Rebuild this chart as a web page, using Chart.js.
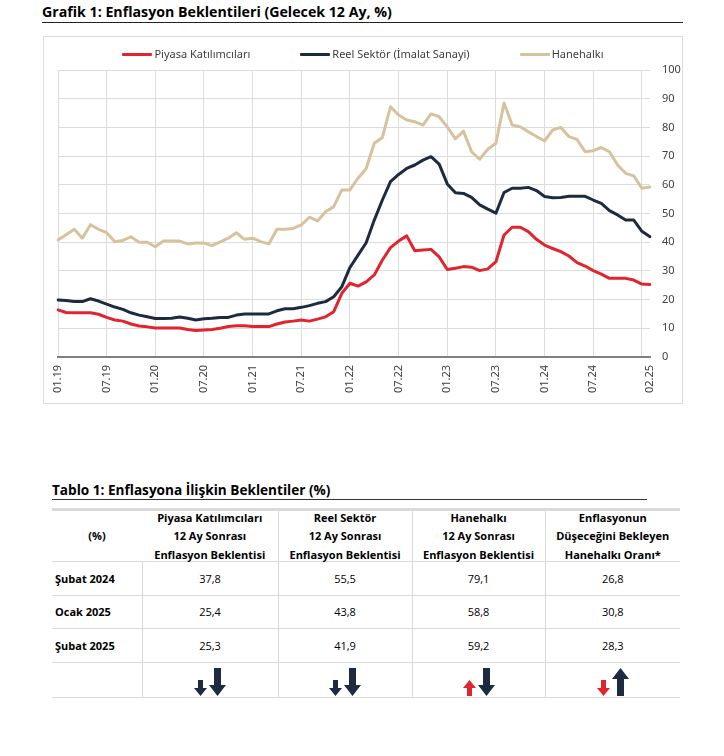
<!DOCTYPE html>
<html>
<head>
<meta charset="utf-8">
<script src="https://cdn.jsdelivr.net/npm/chart.js@4.4.1/dist/chart.umd.min.js"></script>
<style>
  body { margin: 0; background: #fff; width: 724px; height: 756px; position: relative; font-family: "Open Sans", sans-serif; color: #000; }
  #title { position: absolute; left: 42px; top: 3px; width: 641px; font-weight: 700; font-size: 14.2px; line-height: 18px; padding-bottom: 1px; border-bottom: 1px solid #222; }
  #box { position: absolute; left: 43px; top: 36px; width: 640px; height: 368px; border: 1px solid #dcdcdc; box-sizing: border-box; }
  #legend { position: absolute; left: 0; right: 0; top: 9px; display: flex; justify-content: center; gap: 50px; font-family: "Noto Sans", sans-serif; font-size: 11px; color: #404040; line-height: 16px; }
  #legend .item { display: flex; align-items: center; }
  #legend .swatch { width: 30px; height: 3px; margin-right: 2px; border-radius: 1px; }
  #chart { position: absolute; left: 0; top: 0; }
  #ttitle { position: absolute; left: 52px; top: 481px; width: 595px; font-weight: 700; font-size: 13.6px; line-height: 17px; padding-bottom: 1px; border-bottom: 1.5px solid #333; }
  table { position: absolute; left: 52px; top: 508px; width: 628px; border-collapse: collapse; table-layout: fixed; font-size: 11px; }
  th, td { border-bottom: 1.5px solid #dadada; border-left: 1.5px solid #dadada; text-align: center; padding: 0; }
  th { font-weight: 700; height: 50px; border-top: 3px solid #dadada; }
  th div { line-height: 18.3px; margin: -2px 0 -3px; }
  td { height: 32.5px; }
  tr > :first-child { border-left: none; }
  td.lab { text-align: left; font-weight: 700; padding-left: 3px; }
  th.noline + th { border-left: none; }
  .arrows { display: flex; justify-content: center; align-items: flex-end; gap: 2px; height: 34px; padding-bottom: 1px; box-sizing: border-box; }
</style>
</head>
<body>

<div id="title">Grafik 1: Enflasyon Beklentileri (Gelecek 12 Ay, %)</div>

<div id="box">
  <canvas id="chart" width="638" height="366" style="width:638px;height:366px"></canvas>
  <div id="legend"></div>
</div>

<div id="ttitle">Tablo 1: Enflasyona İlişkin Beklentiler (%)</div>
<table id="tbl"></table>

<script>
// ---- chart data ----
const months = ("01.19 02.19 03.19 04.19 05.19 06.19 07.19 08.19 09.19 10.19 11.19 12.19 " +
  "01.20 02.20 03.20 04.20 05.20 06.20 07.20 08.20 09.20 10.20 11.20 12.20 " +
  "01.21 02.21 03.21 04.21 05.21 06.21 07.21 08.21 09.21 10.21 11.21 12.21 " +
  "01.22 02.22 03.22 04.22 05.22 06.22 07.22 08.22 09.22 10.22 11.22 12.22 " +
  "01.23 02.23 03.23 04.23 05.23 06.23 07.23 08.23 09.23 10.23 11.23 12.23 " +
  "01.24 02.24 03.24 04.24 05.24 06.24 07.24 08.24 09.24 10.24 11.24 12.24 " +
  "01.25 02.25").split(" ")

const shownTicks = ["01.19", "07.19", "01.20", "07.20", "01.21", "07.21", "01.22",
  "07.22", "01.23", "07.23", "01.24", "07.24", "02.25"]

const seriesNames = ["Piyasa Katılımcıları", "Reel Sektör (İmalat Sanayi)", "Hanehalkı"]
const seriesColors = ["#e1242d", "#1c2b3f", "#d7c29d"]

const piyasa = [16.4, 15.5, 15.4, 15.4, 15.4, 14.9, 13.8, 12.9, 12.5, 11.5, 10.8, 10.5,
  10.1, 10.1, 10.1, 10.1, 9.6, 9.2, 9.4, 9.6, 10.0, 10.6, 10.9, 10.9,
  10.6, 10.6, 10.6, 11.5, 12.2, 12.5, 12.9, 12.5, 13.2, 14.0, 15.8, 22.2,
  25.7, 24.7, 26.2, 28.6, 33.8, 38.1, 40.4, 42.2, 37.0, 37.3, 37.5, 34.9,
  30.5, 30.9, 31.5, 31.3, 30.1, 30.7, 33.2, 42.5, 45.2, 45.2, 43.7, 41.0,
  39.0, 37.8, 36.7, 35.2, 32.9, 31.7, 30.1, 28.9, 27.4, 27.4, 27.4, 26.8,
  25.4, 25.3]

const reel = [19.9, 19.7, 19.3, 19.3, 20.3, 19.5, 18.4, 17.4, 16.6, 15.4, 14.6, 14.0,
  13.4, 13.4, 13.5, 13.9, 13.5, 12.9, 13.3, 13.5, 13.8, 13.8, 14.6, 15.0,
  15.0, 15.0, 15.0, 16.1, 16.8, 16.8, 17.3, 17.9, 18.7, 19.3, 21.0, 24.5,
  31.2, 35.5, 39.8, 47.7, 54.7, 61.1, 63.6, 65.7, 66.9, 68.6, 69.8, 67.2,
  60.3, 57.2, 57.0, 55.6, 53.0, 51.5, 50.1, 57.3, 58.8, 58.8, 59.1, 58.0,
  55.9, 55.5, 55.6, 56.0, 56.0, 56.0, 54.7, 53.5, 51.0, 49.5, 47.7, 47.7,
  43.8, 41.9]

const hanehalki = [40.8, 42.6, 44.5, 41.4, 46.1, 44.5, 43.3, 40.2, 40.6, 41.9, 40.0, 40.0,
  38.4, 40.4, 40.4, 40.4, 39.4, 39.7, 39.7, 38.8, 40.1, 41.4, 43.3, 41.0,
  41.4, 40.2, 39.4, 44.5, 44.5, 44.8, 46.0, 48.7, 47.4, 50.6, 52.4, 58.2,
  58.2, 62.3, 65.7, 74.5, 76.5, 87.2, 84.3, 82.6, 82.0, 80.8, 84.7, 83.7,
  80.2, 76.0, 78.7, 71.5, 68.9, 72.4, 74.5, 88.5, 80.8, 80.2, 78.5, 76.8,
  75.3, 79.1, 80.0, 76.8, 75.8, 71.5, 71.9, 73.0, 71.5, 66.9, 64.0, 63.1,
  58.8, 59.2]

// ---- table data ----
const tableHeaders = ["(%)",
  "Piyasa Katılımcıları<br>12 Ay Sonrası<br>Enflasyon Beklentisi",
  "Reel Sektör<br>12 Ay Sonrası<br>Enflasyon Beklentisi",
  "Hanehalkı<br>12 Ay Sonrası<br>Enflasyon Beklentisi",
  "Enflasyonun<br>Düşeceğini Bekleyen<br>Hanehalkı Oranı*"]
const tableRows = ["Şubat 2024", "Ocak 2025", "Şubat 2025"]
const tableValues = [
  ["37,8", "55,5", "79,1", "26,8"],
  ["25,4", "43,8", "58,8", "30,8"],
  ["25,3", "41,9", "59,2", "28,3"]
]
// [small arrow, big arrow] per column: direction and colour
const tableArrows = [
  [["down", "navy"], ["down", "navy"]],
  [["down", "navy"], ["down", "navy"]],
  [["up", "red"], ["down", "navy"]],
  [["down", "red"], ["up", "navy"]]
]

// ================================
// Legend
// ================================

const legend = document.getElementById("legend")
seriesNames.forEach((name, i) => {
  legend.innerHTML += `<div class="item"><div class="swatch" style="background:${seriesColors[i]}"></div>${name}</div>`
})

// ================================
// Chart
// ================================

const tickFont = { family: "'Noto Sans', sans-serif", size: 11 }
const gridColor = "#dcdcdc"

const datasets = [piyasa, reel, hanehalki].map((data, i) => ({
  label: seriesNames[i],
  data: data,
  borderColor: seriesColors[i],
  backgroundColor: seriesColors[i],
  borderWidth: 3,
  borderJoinStyle: "round",
  borderCapStyle: "round",
  pointRadius: 0,
  tension: 0,
  fill: false
}))
// draw household first so it sits under the others, like the original
datasets.reverse()

new Chart(document.getElementById("chart"), {
  type: "line",
  data: { labels: months, datasets: datasets },
  options: {
    responsive: false,
    animation: false,
    layout: { padding: { top: 33, left: 14, right: 0, bottom: 0 } },
    plugins: { legend: { display: false }, tooltip: { enabled: false } },
    scales: {
      x: {
        grid: {
          drawTicks: false,
          lineWidth: 1,
          color: (c) => {
            const m = months[c.index] || ""
            return (m.startsWith("01.") || m.startsWith("07.")) ? gridColor : "rgba(0,0,0,0)"
          }
        },
        border: { color: "#7f7f7f", width: 2 },
        ticks: {
          autoSkip: false,
          maxRotation: 90,
          minRotation: 90,
          padding: 8,
          color: "#404040",
          font: tickFont,
          callback: function (value, index) {
            return shownTicks.includes(months[index]) ? months[index] : ""
          }
        },
        afterFit: (s) => { s.height = 46 }
      },
      y: {
        position: "right",
        min: 0,
        max: 100,
        grid: { color: gridColor, drawTicks: false, lineWidth: 1 },
        border: { display: false },
        ticks: { stepSize: 10, padding: 12, color: "#404040", font: tickFont },
        afterFit: (s) => { s.width = 32 }
      }
    }
  }
})

// ================================
// Table
// ================================

function arrowSvg(dir, colour, big) {
  const w = big ? 17 : 13
  const h = big ? 28 : 16
  const head = big ? 11 : 8
  const shaft = big ? 7 : 5
  const fill = colour === "red" ? "#e1242d" : "#1c2b3f"
  const sx = (w - shaft) / 2
  let pts
  if (dir === "down") {
    pts = `${sx},0 ${sx + shaft},0 ${sx + shaft},${h - head} ${w},${h - head} ${w / 2},${h} 0,${h - head} ${sx},${h - head}`
  } else {
    pts = `${w / 2},0 ${w},${head} ${sx + shaft},${head} ${sx + shaft},${h} ${sx},${h} ${sx},${head} 0,${head}`
  }
  return `<svg width="${w}" height="${h}" viewBox="0 0 ${w} ${h}"><polygon points="${pts}" fill="${fill}"/></svg>`
}

const widths = [90, 136, 134, 133, 135]
let html = "<colgroup>" + widths.map(w => `<col style="width:${w}px">`).join("") + "</colgroup>"
html += "<tr>" + tableHeaders.map((h, i) => `<th${i === 0 ? ' class="noline"' : ""}><div>${h}</div></th>`).join("") + "</tr>"
tableRows.forEach((r, i) => {
  html += `<tr><td class="lab">${r}</td>` + tableValues[i].map(v => `<td>${v}</td>`).join("") + "</tr>"
})
html += "<tr><td></td>" + tableArrows.map(a =>
  `<td><div class="arrows">${arrowSvg(a[0][0], a[0][1], false)}${arrowSvg(a[1][0], a[1][1], true)}</div></td>`
).join("") + "</tr>"
document.getElementById("tbl").innerHTML = html
</script>
</body>
</html>
